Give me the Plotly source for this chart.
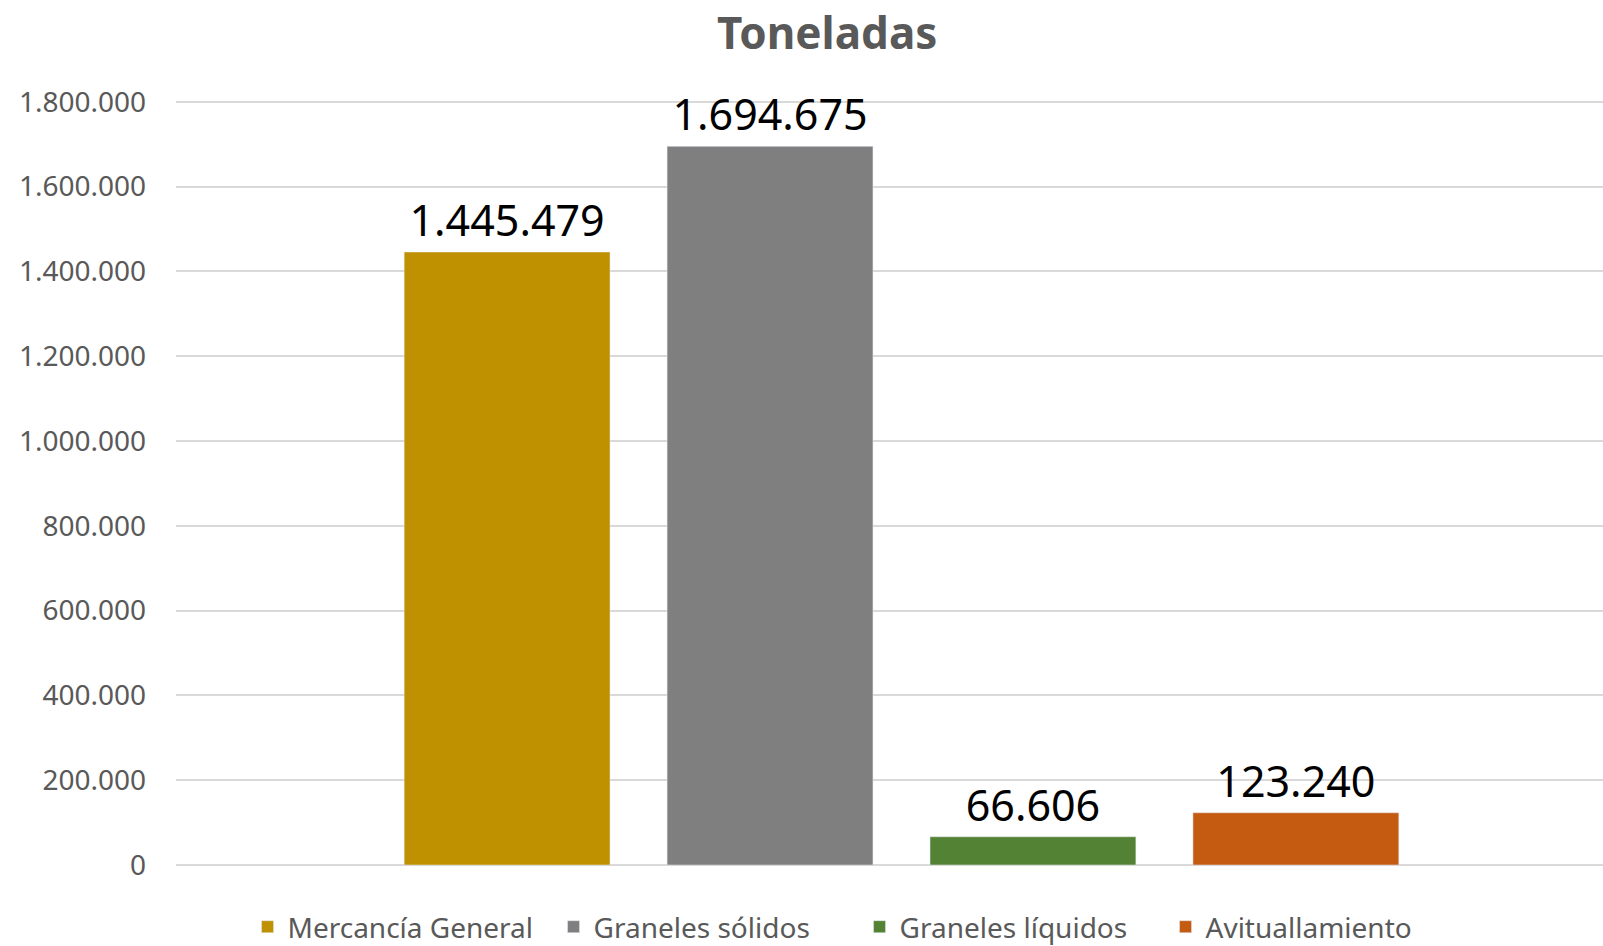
import plotly.graph_objects as go

categories = ["Toneladas"]
series_names = ["Mercancía General", "Graneles sólidos", "Graneles líquidos", "Avituallamiento"]
series_values = [1445479, 1694675, 66606, 123240]
series_colors = ["#BF9000", "#7F7F7F", "#548235", "#C55A11"]
tick_values = [0, 200000, 400000, 600000, 800000, 1000000, 1200000, 1400000, 1600000, 1800000]

fig = go.Figure()
for name, val, col in zip(series_names, series_values, series_colors):
    fig.add_trace(go.Bar(
        x=categories, y=[val], name=name, marker_color=col,
        texttemplate="%{y:,d}", textposition="outside",
        textfont=dict(family="Noto Sans", size=43, color="#000000"),
        cliponaxis=False, constraintext="none",
    ))

fig.update_layout(
    width=1603, height=946,
    margin=dict(l=176, r=0, t=100, b=81, autoexpand=False),
    paper_bgcolor="white", plot_bgcolor="white",
    separators=",.",
    barmode="group", bargap=0.263, bargroupgap=0.217,
    title=dict(text="<b>Toneladas</b>", x=0.516, xanchor="center", xref="container",
               y=1 - 34 / 946, yanchor="middle", yref="container",
               font=dict(family="Noto Sans", size=44, color="#595959")),
    font=dict(family="Noto Sans", color="#595959"),
    showlegend=True,
    legend=dict(orientation="h", x=0.479, xanchor="center", xref="paper",
                y=-62 / 765, yanchor="middle", yref="paper",
                entrywidth=261, entrywidthmode="pixels",
                font=dict(family="Noto Sans", size=28, color="#595959")),
)
fig.update_xaxes(showticklabels=False, showgrid=False, zeroline=False, showline=False,
                 range=[-0.5084, 0.4916])
fig.update_yaxes(range=[0, 1804000], tickvals=tick_values, tickformat=",d",
                 showgrid=True, gridcolor="#D9D9D9", gridwidth=1.5,
                 zeroline=True, zerolinecolor="#D9D9D9", zerolinewidth=1.5,
                 tickfont=dict(family="Noto Sans", size=28, color="#595959"),
                 ticks="", ticklabelstandoff=29)

fig.write_html("out.html", config={"displayModeBar": False},
               post_script="document.body.style.margin='0px';")
